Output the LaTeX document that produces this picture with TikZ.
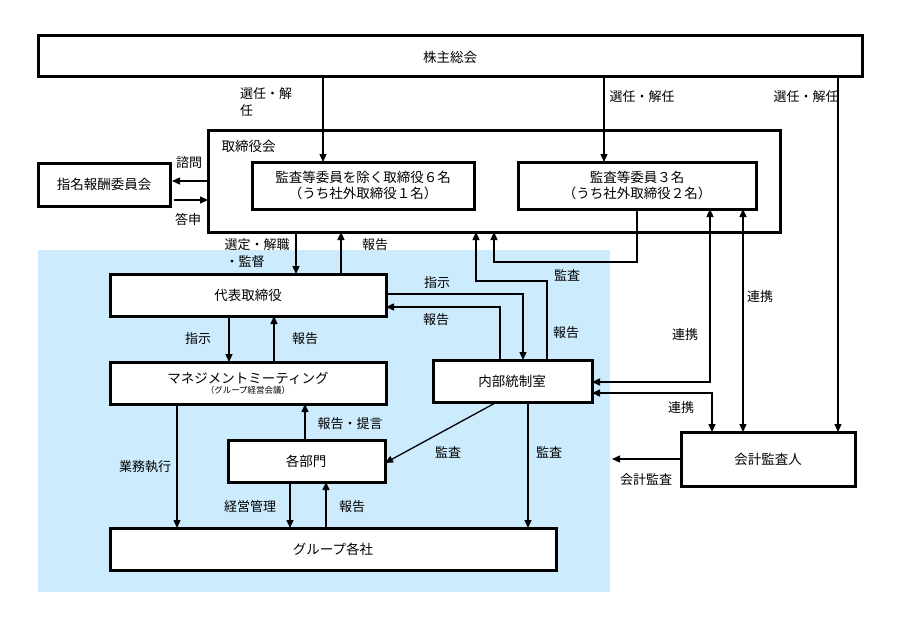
\documentclass[tikz,border=0pt]{standalone}
\usepackage{fontspec}
\setmainfont{Noto Sans CJK JP}
\usetikzlibrary{arrows.meta}
\definecolor{bluebg}{HTML}{CCEBFD}
\begin{document}
\begin{tikzpicture}[x=1pt,y=-1pt,
  box/.style={draw,line width=3pt,fill=white,inner sep=0pt},
  arr/.style={line width=1.3pt,-{Triangle[length=8pt,width=7pt]}},
  barr/.style={line width=1.3pt,{Triangle[length=8pt,width=7pt]}-{Triangle[length=8pt,width=7pt]}},
  lab/.style={font=\fontsize{13}{15}\selectfont,inner sep=0pt},
  txt/.style={font=\fontsize{13.5}{16}\selectfont}]
\useasboundingbox (0,0) rectangle (900,626);
\fill[bluebg] (38,250) rectangle (610,592);
% boxes
\draw[box] (38,36) rectangle (862,77);
\node[txt] (kabu) at (450,57) {株主総会};
\draw[box] (208,130) rectangle (780,232);
\node[txt,anchor=west] (tori) at (218,146) {取締役会};
\draw[box] (252,162) rectangle (474,209);
\node[txt,align=center] (in1) at (363,185.5) {監査等委員を除く取締役６名\\（うち社外取締役１名）};
\draw[box] (518,162) rectangle (756,209);
\node[txt,align=center] (in2) at (637,185.5) {監査等委員３名\\（うち社外取締役２名）};
\draw[box] (38,163) rectangle (170,206);
\node[txt] (shim) at (104,184.5) {指名報酬委員会};
\draw[box] (110,274) rectangle (386,316);
\node[txt] (dai) at (248,295) {代表取締役};
\draw[box] (110,362) rectangle (386,404);
\node[align=center,inner sep=0pt] (mm) at (248,383) {\fontsize{13.5}{15}\selectfont マネジメントミーティング\\[-2pt]\fontsize{8.5}{9}\selectfont（グループ経営会議）};
\draw[box] (433,360) rectangle (592,402);
\node[txt] (nai) at (512,381) {内部統制室};
\draw[box] (228,440) rectangle (385,482);
\node[txt] (kaku) at (306,461) {各部門};
\draw[box] (110,528) rectangle (556,570);
\node[txt] (grp) at (333,549) {グループ各社};
\draw[box] (681,432) rectangle (855,486);
\node[txt] (kai) at (768,459) {会計監査人};
% arrows from 株主総会
\draw[arr] (323,77) -- (323,162);
\node[lab,anchor=west] at (240,94) {選任・解};
\node[lab,anchor=west] at (240,111) {任};
\draw[arr] (604,77) -- (604,162);
\node[lab] at (642,97) {選任・解任};
\draw[arr] (838,77) -- (838,432);
\node[lab] at (806,97) {選任・解任};
% 指名報酬委員会
\draw[arr] (208,181) -- (172,181);
\node[lab] at (189,163) {諮問};
\draw[arr] (174,200) -- (208,200);
\node[lab] at (188,219) {答申};
% 取締役会 - 代表
\draw[arr] (296,232) -- (296,274);
\node[lab] at (257,245) {選定・解職};
\node[lab] at (245,262) {・監督};
\draw[arr] (341,274) -- (341,232);
\node[lab] at (375,245) {報告};
% 内部統制室 -> 取締役会
\draw[arr] (547,360) -- (547,281) -- (476,281) -- (476,232);
\node[lab] at (566,333) {報告};
\draw[arr] (637,209) -- (637,262) -- (494,262) -- (494,232);
\node[lab] at (567,275) {監査};
% 代表 <-> 内部統制室
\draw[arr] (386,294) -- (523,294) -- (523,360);
\node[lab] at (437,283) {指示};
\draw[arr] (500,360) -- (500,307) -- (386,307);
\node[lab] at (436,320) {報告};
% 連携
\draw[barr] (592,382) -- (710,382) -- (710,209);
\node[lab] at (685,335) {連携};
\draw[barr] (592,393) -- (712,393) -- (712,432);
\node[lab] at (681,408) {連携};
\draw[barr] (743,209) -- (743,432);
\node[lab] at (760,297) {連携};
\draw[arr] (681,459) -- (612,459);
\node[lab] at (646,480) {会計監査};
% 代表 - マネジメント
\draw[arr] (229,316) -- (229,362);
\node[lab] at (198,339) {指示};
\draw[arr] (274,362) -- (274,316);
\node[lab] at (305,339) {報告};
\draw[arr] (305,440) -- (305,404);
\node[lab] at (350,424) {報告・提言};
\draw[arr] (177,404) -- (177,528);
\node[lab] at (145,467) {業務執行};
\draw[arr] (290,482) -- (290,528);
\node[lab] at (250,507) {経営管理};
\draw[arr] (326,528) -- (326,482);
\node[lab] at (352,507) {報告};
\draw[arr] (497,402) -- (385,463);
\node[lab] at (448,452) {監査};
\draw[arr] (528,402) -- (528,528);
\node[lab] at (549,452) {監査};
\end{tikzpicture}
\end{document}
